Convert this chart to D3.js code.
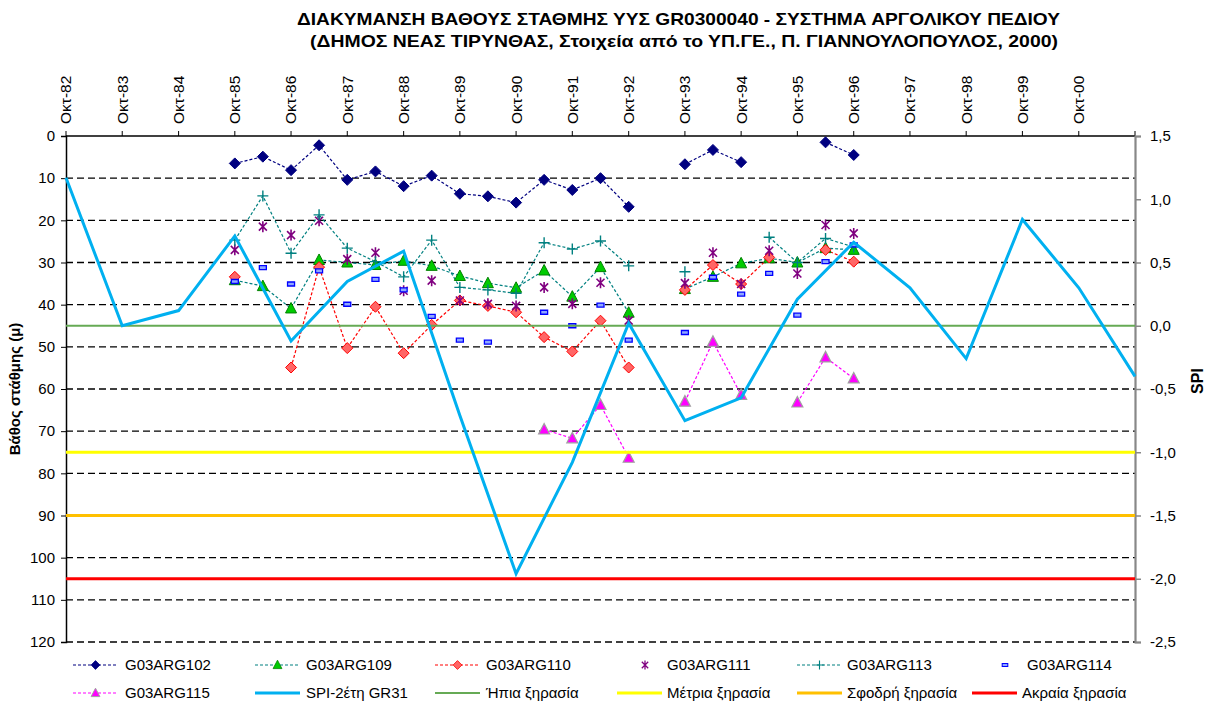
<!DOCTYPE html>
<html><head><meta charset="utf-8">
<script src="https://cdn.jsdelivr.net/npm/d3@7"></script>
<style>body{margin:0;background:#fff} svg{display:block} text{font-family:"Liberation Sans",Arial,sans-serif;fill:#000}</style>
</head><body><svg id="c" width="1211" height="709"></svg>
<script>
// ---------- DATA ----------
const titleLine1 = "ΔΙΑΚΥΜΑΝΣΗ ΒΑΘΟΥΣ ΣΤΑΘΜΗΣ ΥΥΣ GR0300040 - ΣΥΣΤΗΜΑ ΑΡΓΟΛΙΚΟΥ ΠΕΔΙΟΥ";
const titleLine2 = "(ΔΗΜΟΣ ΝΕΑΣ ΤΙΡΥΝΘΑΣ, Στοιχεία από το ΥΠ.ΓΕ., Π. ΓΙΑΝΝΟΥΛΟΠΟΥΛΟΣ, 2000)";
const leftTitle = "Βάθος στάθμης (μ)";
const rightTitle = "SPI";

// semi-annual measurement dates (October / April)
const dates = ["1985-10","1986-04","1986-10","1987-04","1987-10","1988-04","1988-10","1989-04",
  "1989-10","1990-04","1990-10","1991-04","1991-10","1992-04","1992-10","1993-04","1993-10",
  "1994-04","1994-10","1995-04","1995-10","1996-04","1996-10"];
const G03ARG102 = [6.5,4.9,8.1,2.2,10.4,8.4,11.9,9.4,13.7,14.3,15.8,10.4,12.8,10.0,16.8,null,6.7,3.3,6.2,null,null,1.5,4.5];
const G03ARG109 = [34.2,35.6,40.9,29.4,30.0,30.6,29.6,30.8,33.2,34.9,36.0,31.9,38.1,31.1,41.9,null,36.3,33.4,30.2,29.0,30.0,26.6,27.0];
const G03ARG110 = [33.4,null,54.9,31.1,50.3,40.5,51.5,44.8,39.0,40.3,41.8,47.7,51.1,43.8,54.9,null,36.5,30.6,35.1,28.8,null,27.0,29.8];
const G03ARG111 = [27.0,21.5,23.5,20.1,29.2,27.7,36.7,34.3,39.0,39.8,40.3,35.9,39.8,34.8,43.8,null,34.9,27.7,35.1,27.2,32.6,21.1,23.1];
const G03ARG113 = [24.7,14.2,27.8,18.7,26.6,29.8,33.4,24.7,35.9,36.5,37.3,25.3,26.8,24.9,30.8,null,32.2,null,null,24.0,30.0,24.3,26.3];
const G03ARG114 = [34.5,31.2,35.1,32.0,39.9,34.0,36.5,42.8,48.4,48.9,null,41.8,45.0,40.1,48.4,null,46.6,33.5,37.5,32.6,42.5,29.8,25.8];
const G03ARG115 = [null,null,null,null,null,null,null,null,null,null,null,69.6,71.7,63.8,76.3,null,63.0,48.8,61.4,null,63.2,52.5,57.5];

// annual SPI-2 year (October)
const spiDates = ["1982-10","1983-10","1984-10","1985-10","1986-10","1987-10","1988-10","1989-10","1990-10",
  "1991-10","1992-10","1993-10","1994-10","1995-10","1996-10","1997-10","1998-10","1999-10","2000-10","2001-10"];
const spiValues = [1.17,0.0,0.12,0.71,-0.12,0.35,0.59,-0.71,-1.96,-1.08,0.02,-0.75,-0.57,0.21,0.66,0.30,-0.26,0.84,0.30,-0.40];

// drought thresholds (SPI)
const thresholdNames = ["Ήπια ξηρασία","Μέτρια ξηρασία","Σφοδρή ξηρασία","Ακραία ξηρασία"];
const thresholdValues = [0,-1,-1.5,-2];

const depthTicks = d3.range(0,121,10);
const spiTicks = [1.5,1.0,0.5,0.0,-0.5,-1.0,-1.5,-2.0,-2.5];
const yearTickDates = d3.range(1982,2002).map(y => y + "-10");

// ---------- STYLES ----------
const L = 66, R = 1135, T = 136, B = 642;
const parse = d3.timeParse("%Y-%m");
const svg = d3.select("#c");

const x = d3.scaleTime().domain([parse("1982-10"), parse("2001-10")]).range([L,R]);
const yL = d3.scaleLinear().domain([0,120]).range([T,B]);
const yR = d3.scaleLinear().domain([1.5,-2.5]).range([T,B]);

const shapes = {
  diamond: "M0,-5.5L5.5,0L0,5.5L-5.5,0Z",
  triangle: "M0,-6L5.5,4.5L-5.5,4.5Z",
  star: "M-4,-4L4,4M-4,4L4,-4M0,-5.5L0,5.5",
  plus: "M-5.5,0L5.5,0M0,-5.5L0,5.5",
  dash: "M-3.5,-2h7v4h-7Z"
};
const series = [
  {name:"G03ARG102", vals:G03ARG102, line:"#000080", shape:"diamond", fill:"#000080", stroke:"#000080", sw:1},
  {name:"G03ARG109", vals:G03ARG109, line:"#008080", shape:"triangle", fill:"#00cc00", stroke:"#008000", sw:1},
  {name:"G03ARG110", vals:G03ARG110, line:"#ff0000", shape:"diamond", fill:"#ff6666", stroke:"#ff0000", sw:1},
  {name:"G03ARG111", vals:G03ARG111, line:null, shape:"star", fill:"none", stroke:"#800080", sw:1.6},
  {name:"G03ARG113", vals:G03ARG113, line:"#008080", shape:"plus", fill:"none", stroke:"#008080", sw:1.4},
  {name:"G03ARG114", vals:G03ARG114, line:null, shape:"dash", fill:"#8fa8ff", stroke:"#0000ff", sw:1.3},
  {name:"G03ARG115", vals:G03ARG115, line:"#ff00ff", shape:"triangle", fill:"#ff00ff", stroke:"#a0a0a0", sw:1.2}
];
const thrColors = ["#66aa55","#ffff00","#ffc000","#ff0000"];
const thrWidths = [2.2,3,3,3];
const spiColor = "#00b0f0";

// ---------- TITLE ----------
svg.append("text").attr("x",678.5).attr("y",25).attr("text-anchor","middle")
  .attr("font-size",17).attr("font-weight","bold")
  .attr("textLength",763).attr("lengthAdjust","spacingAndGlyphs").text(titleLine1);
svg.append("text").attr("x",684).attr("y",47).attr("text-anchor","middle")
  .attr("font-size",17).attr("font-weight","bold")
  .attr("textLength",748).attr("lengthAdjust","spacingAndGlyphs").text(titleLine2);

// ---------- GRID ----------
svg.append("g").selectAll("line").data(depthTicks.filter(d=>d>0)).join("line")
  .attr("x1",L).attr("x2",R).attr("y1",d=>yL(d)).attr("y2",d=>yL(d))
  .attr("stroke","#000").attr("stroke-width",1.3).attr("stroke-dasharray","7,4");

// ---------- AXES ----------
const gTop = svg.append("g").attr("transform",`translate(0,${T})`);
gTop.append("line").attr("x1",L).attr("x2",R).attr("y1",0).attr("y2",0).attr("stroke","#000").attr("stroke-width",1.5);
gTop.selectAll("line.t").data(yearTickDates).join("line").attr("class","t")
  .attr("x1",d=>x(parse(d))).attr("x2",d=>x(parse(d))).attr("y1",0).attr("y2",-5)
  .attr("stroke","#000").attr("stroke-width",1);
svg.append("g").selectAll("text").data(yearTickDates.slice(0,-1)).join("text")
  .attr("transform",d=>`translate(${x(parse(d))},124) rotate(-90)`)
  .attr("dy","0.35em").attr("text-anchor","start").attr("font-size",15.5)
  .text(d=>"Οκτ-" + d.slice(2,4));

const gLeft = svg.append("g").attr("transform",`translate(${L},0)`)
  .call(d3.axisLeft(yL).tickValues(depthTicks).tickSize(5).tickPadding(6));
gLeft.select(".domain").attr("stroke","#000").attr("stroke-width",1.5);
gLeft.selectAll("text").attr("font-size",15).attr("font-family","Liberation Sans, Arial, sans-serif").attr("fill","#000");

const gRight = svg.append("g").attr("transform",`translate(${R},0)`)
  .call(d3.axisRight(yR).tickValues(spiTicks).tickSize(6).tickPadding(9)
    .tickFormat(d=>d3.format(".1f")(d).replace(".",",").replace("−","-")));
gRight.select(".domain").attr("stroke","#888").attr("stroke-width",2.2);
gRight.selectAll(".tick line").attr("stroke","#888").attr("stroke-width",1.5);
gRight.selectAll("text").attr("font-size",15).attr("font-family","Liberation Sans, Arial, sans-serif").attr("fill","#000");

svg.append("text").attr("transform",`translate(20,${(T+B)/2}) rotate(-90)`)
  .attr("text-anchor","middle").attr("font-size",15).attr("font-weight","bold").text(leftTitle);
svg.append("text").attr("transform",`translate(1203,${(T+B)/2-8}) rotate(-90)`)
  .attr("text-anchor","middle").attr("font-size",16).attr("font-weight","bold").text(rightTitle);

// ---------- SERIES ----------
const gS = svg.append("g");
series.forEach(s => {
  const pts = dates.map((d,i)=>({d:parse(d), v:s.vals[i]}));
  if (s.line) {
    gS.append("path").datum(pts)
      .attr("d", d3.line().defined(p=>p.v!=null).x(p=>x(p.d)).y(p=>yL(p.v)))
      .attr("fill","none").attr("stroke",s.line).attr("stroke-width",1.2).attr("stroke-dasharray","3,2");
  }
});
series.forEach(s => {
  const pts = dates.map((d,i)=>({d:parse(d), v:s.vals[i]})).filter(p=>p.v!=null);
  gS.append("g").selectAll("path").data(pts).join("path")
    .attr("transform",p=>`translate(${x(p.d)},${yL(p.v)})`)
    .attr("d",shapes[s.shape]).attr("fill",s.fill).attr("stroke",s.stroke).attr("stroke-width",s.sw);
});

thresholdValues.forEach((v,i)=>{
  svg.append("line").attr("x1",L).attr("x2",R).attr("y1",yR(v)).attr("y2",yR(v))
    .attr("stroke",thrColors[i]).attr("stroke-width",thrWidths[i]);
});
svg.append("path").datum(spiDates.map((d,i)=>({d:parse(d), v:spiValues[i]})))
  .attr("d", d3.line().x(p=>x(p.d)).y(p=>yR(p.v)))
  .attr("fill","none").attr("stroke",spiColor).attr("stroke-width",3).attr("stroke-linejoin","miter");

// ---------- LEGEND ----------
const legendItems = [
  ...series.map(s=>({name:s.name, type:"series", s})),
  {name:"SPI-2έτη GR31", type:"solid", color:spiColor, w:3},
  ...thresholdNames.map((n,i)=>({name:n, type:"solid", color:thrColors[i], w:i===0?2.2:3}))
];
const legendX = [73,255,435,617,797,978, 73,255,435,617,797,972];
const legendTextX = [125,306,486,667,847,1027, 125,306,486,667,847,1022];
const legendY = [665,665,665,665,665,665, 693,693,693,693,693,693];
const gL = svg.append("g");
legendItems.forEach((it,i)=>{
  const x0 = legendX[i], y0 = legendY[i], w = 45;
  if (it.type==="series") {
    const s = it.s;
    if (s.line) gL.append("line").attr("x1",x0).attr("x2",x0+w).attr("y1",y0).attr("y2",y0)
      .attr("stroke",s.line).attr("stroke-width",1.2).attr("stroke-dasharray","3,2");
    gL.append("path").attr("transform",`translate(${s.line? x0+w/2 : legendTextX[i]-22},${y0}) scale(0.8)`)
      .attr("d",shapes[s.shape]).attr("fill",s.fill).attr("stroke",s.stroke).attr("stroke-width",s.sw);
  } else {
    gL.append("line").attr("x1",x0).attr("x2",x0+w).attr("y1",y0).attr("y2",y0)
      .attr("stroke",it.color).attr("stroke-width",it.w);
  }
  gL.append("text").attr("x",legendTextX[i]).attr("y",y0+5).attr("font-size",15).text(it.name);
});
</script></body></html>
